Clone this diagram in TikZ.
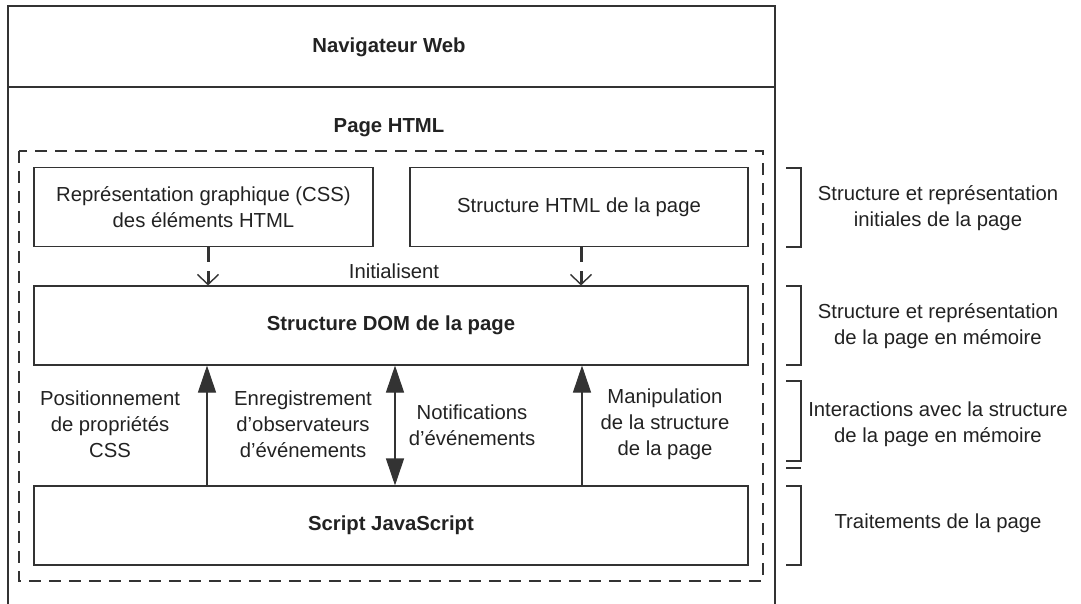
\documentclass[tikz,border=0pt]{standalone}
\usepackage{fontspec}
\setmainfont{Liberation Sans}
\usetikzlibrary{arrows.meta}
\definecolor{ink}{HTML}{333333}
\definecolor{txt}{HTML}{222222}
\begin{document}
\begin{tikzpicture}[x=1pt,y=-1pt,
  every node/.style={text=txt, font=\fontsize{20.3}{26}\selectfont, align=center, inner sep=0pt},
  line/.style={draw=ink, line width=1.1pt},
  panel/.style={line, rectangle, minimum height=79pt},
  titletext/.style={font=\fontsize{20.3}{26}\selectfont\bfseries},
  initarrow/.style={draw=ink, line width=3pt, dash pattern=on 15pt off 9pt,
    -{Straight Barb[width=21pt,length=10pt,line width=1.4pt]}},
  callarrow/.style={draw=ink, line width=1.1pt, -{Triangle[width=18pt,length=27pt]}},
  bothways/.style={draw=ink, line width=1.1pt, {Triangle[width=18pt,length=27pt]}-{Triangle[width=18pt,length=27pt]}},
  bracket/.style={draw=ink, line width=1.1pt}
]
\useasboundingbox (0,0) rectangle (1081,604);

% browser frame
\draw[line] (8,604) -- (8,6) -- (775,6) -- (775,604);
\draw[line] (8,87) -- (775,87);
\node[titletext] (browser) at (389,47) {Navigateur Web};
\node[titletext] (page) at (389,128) {Page HTML};

% page area
\draw[draw=ink, line width=1.1pt, dash pattern=on 12pt off 8pt] (19,151) rectangle (763,581);

% boxes
\node[panel, minimum width=339pt] (css) at (203.5,207) {Représentation graphique (CSS)\\des éléments HTML};
\node[panel, minimum width=338pt] (html) at (579,207) {Structure HTML de la page};
\node[panel, minimum width=714pt, titletext] (dom) at (391,325.5) {Structure DOM de la page};
\node[panel, minimum width=714pt, titletext] (js) at (391,525.5) {Script JavaScript};

% initialisation
\draw[initarrow] (css.south -| 208,0) -- (dom.north -| 208,0);
\draw[initarrow] (html.south -| 581,0) -- (dom.north -| 581,0);
\node (init) at (394,271) {Initialisent};

% script interactions
\draw[callarrow] (js.north -| 207,0) -- (dom.south -| 207,0);
\draw[bothways] (js.north -| 395,0) -- (dom.south -| 395,0);
\draw[callarrow] (js.north -| 582,0) -- (dom.south -| 582,0);
\node (cssprop) at (110,424) {Positionnement\\de propriétés\\CSS};
\node (observers) at (303,424) {Enregistrement\\d’observateurs\\d’événements};
\node (notif) at (472,425) {Notifications\\d’événements};
\node (manip) at (665,424) {Manipulation\\de la structure\\de la page};

% layer brackets
\draw[bracket] (786,168) -- (801,168) -- (801,247) -- (786,247);
\draw[bracket] (786,286) -- (801,286) -- (801,365) -- (786,365);
\draw[bracket] (786,381) -- (801,381) -- (801,461) -- (786,461);
\draw[bracket] (786,468) -- (801,468);
\draw[bracket] (786,486) -- (801,486) -- (801,565) -- (786,565);
\node (l1) at (938,208) {Structure et représentation\\initiales de la page};
\node (l2) at (938,326) {Structure et représentation\\de la page en mémoire};
\node (l3) at (938,424) {Interactions avec la structure\\de la page en mémoire};
\node (l4) at (938,523) {Traitements de la page};
\end{tikzpicture}
\end{document}
